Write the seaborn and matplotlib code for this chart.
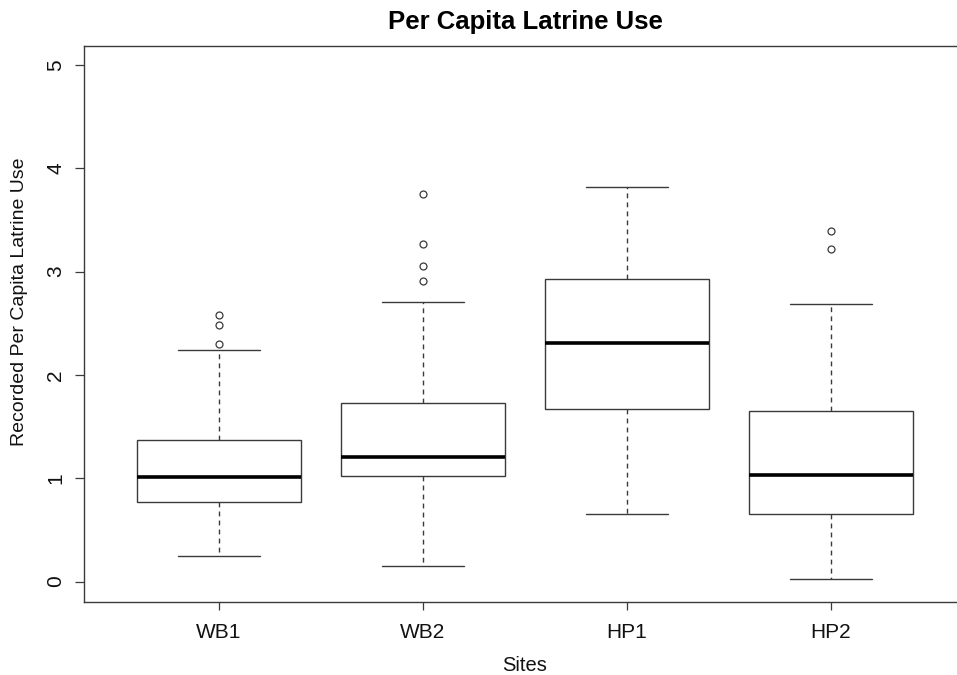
import numpy as np
import pandas as pd
import matplotlib
matplotlib.use("Agg")
import matplotlib.pyplot as plt
import seaborn as sns

# five-number summaries
sites = ["WB1", "WB2", "HP1", "HP2"]
lower_whisker = [0.25, 0.15, 0.65, 0.02]
q1 = [0.77, 1.02, 1.67, 0.65]
median = [1.01, 1.21, 2.31, 1.03]
q3 = [1.37, 1.73, 2.93, 1.65]
upper_whisker = [2.24, 2.71, 3.82, 2.69]
outliers = [
    [2.30, 2.48, 2.58],
    [2.91, 3.05, 3.27, 3.75],
    [],
    [3.22, 3.39],
]

# build a sample per site whose quartiles / whiskers reproduce the summary
rows = []
for i, site in enumerate(sites):
    vals = ([lower_whisker[i]] + [q1[i]] * 10 + [median[i]] * 10
            + [q3[i]] * 10 + [upper_whisker[i]] + outliers[i])
    for v in vals:
        rows.append({"site": site, "value": v})
df = pd.DataFrame(rows)

sns.set_style("white")
plt.rcParams["font.family"] = ["Liberation Sans", "DejaVu Sans"]

line_col = "#3a3a3a"
text_col = "#111111"

fig = plt.figure(figsize=(9.57, 6.75), dpi=100)
ax = fig.add_axes([84 / 957, 73 / 675, 882 / 957, 556 / 675])

sns.boxplot(
    data=df, x="site", y="value", order=sites, ax=ax,
    color="white", saturation=1, linecolor=line_col, linewidth=1.0,
    width=0.8, whis=1.5, fliersize=5,
    medianprops={"color": "black", "linewidth": 2.6},
    whiskerprops={"linestyle": (0, (3.5, 3))},
    flierprops={"marker": "o", "markerfacecolor": "none",
                "markeredgecolor": line_col, "markeredgewidth": 0.9},
)

ax.set_xlim(-0.662, 3.662)
ax.set_ylim(-0.198, 5.184)
ax.set_yticks([0, 1, 2, 3, 4, 5])

for s in ax.spines.values():
    s.set_color(line_col)
    s.set_linewidth(1.0)

ax.tick_params(axis="x", bottom=True, length=6, width=0.9, color=line_col,
               labelsize=15, pad=9, labelcolor=text_col)
ax.tick_params(axis="y", left=True, length=6.5, width=0.9, color=line_col,
               labelsize=15, pad=7, labelcolor=text_col, labelrotation=90)
for lab in ax.get_yticklabels():
    lab.set_va("center")

ax.set_xlabel("Sites", fontsize=14.5, color=text_col, labelpad=10)
ax.set_ylabel("Recorded Per Capita Latrine Use", fontsize=14, color=text_col)
ax.yaxis.set_label_coords(-0.0635, 0.54)
ax.set_title("Per Capita Latrine Use", fontsize=18.5, fontweight="bold",
             color="black", pad=12)

fig.savefig("out.png", dpi=100, facecolor="white")
